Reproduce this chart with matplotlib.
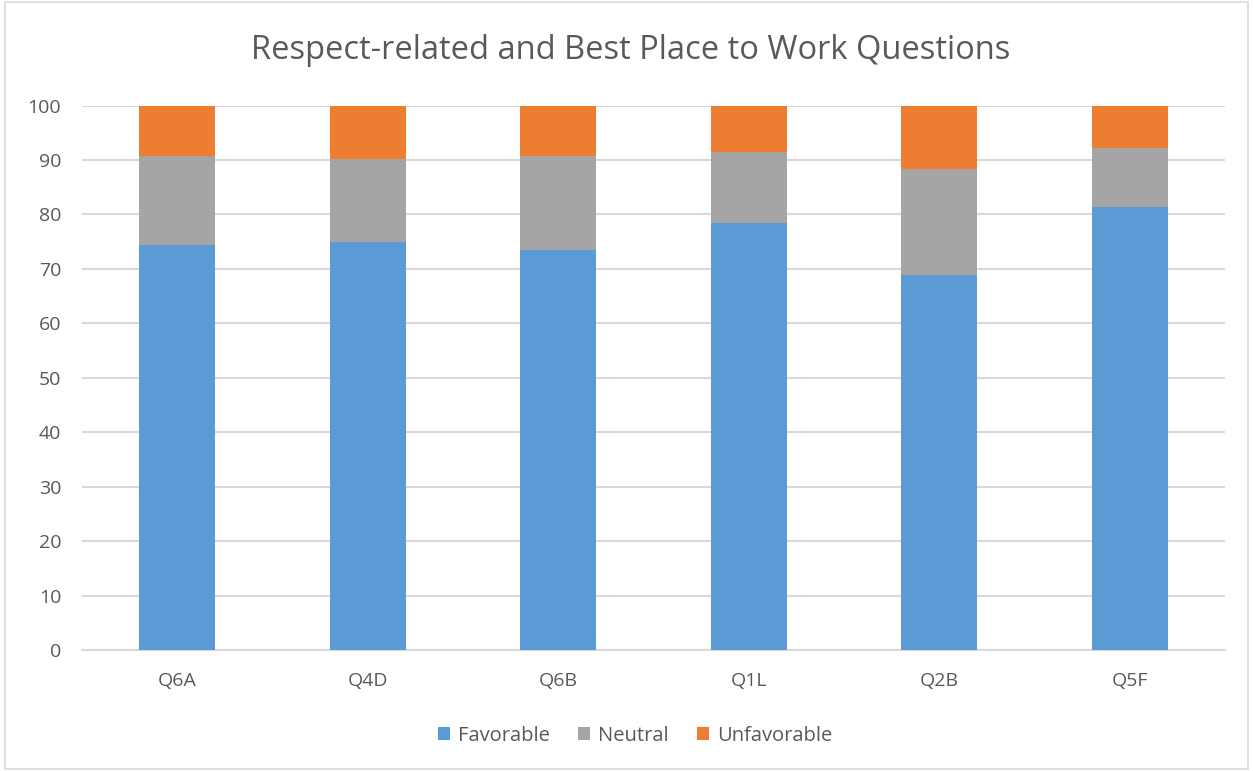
import matplotlib.pyplot as plt
import numpy as np
from matplotlib.patches import Rectangle

categories = ["Q6A", "Q4D", "Q6B", "Q1L", "Q2B", "Q5F"]
favorable = [74.4, 74.9, 73.4, 78.5, 68.9, 81.4]
neutral = [16.4, 15.3, 17.4, 12.9, 19.5, 10.8]
unfavorable = [9.2, 9.8, 9.2, 8.6, 11.6, 7.8]

plt.rcParams['font.family'] = ['Open Sans', 'DejaVu Sans']
text_color = '#595959'
grid_color = '#d9d9d9'

fig = plt.figure(figsize=(12.53, 7.71), dpi=100)
ax = fig.add_axes([0.0654, 0.157, 0.9123, 0.706])

x = np.arange(len(categories))
fav = np.array(favorable)
neu = np.array(neutral)
unf = np.array(unfavorable)
w = 0.4
ax.bar(x, fav, w, color='#5b9bd5', label='Favorable', zorder=3)
ax.bar(x, neu, w, bottom=fav, color='#a5a5a5', label='Neutral', zorder=3)
ax.bar(x, unf, w, bottom=fav + neu, color='#ed7d31', label='Unfavorable', zorder=3)

ax.set_xlim(-0.5, len(categories) - 0.5)
ax.set_ylim(0, 100)
ax.set_yticks(range(0, 101, 10))
ax.set_xticks(x)
ax.set_xticklabels(categories)
ax.yaxis.grid(True, color=grid_color, linewidth=1.5, zorder=0)
for side in ['top', 'right', 'left']:
    ax.spines[side].set_visible(False)
ax.spines['bottom'].set_color(grid_color)
ax.spines['bottom'].set_linewidth(1.5)
ax.tick_params(axis='both', length=0, labelsize=14, colors=text_color)
ax.tick_params(axis='x', pad=16)
ax.tick_params(axis='y', pad=15)

# title and legend are centred on the whole chart, not the plot area
fig.text(0.503, 0.935, 'Respect-related and Best Place to Work Questions',
         fontsize=23.5, color=text_color, ha='center', va='center')

fig.legend(*ax.get_legend_handles_labels(), loc='center',
           bbox_to_anchor=(0.507, 0.046), ncol=3,
           frameon=False, fontsize=14.5, labelcolor=text_color,
           handlelength=0.6, handleheight=0.6, columnspacing=1.4,
           handletextpad=0.4)

fig.patches.append(Rectangle((0.004, 0.003), 0.992, 0.994, transform=fig.transFigure,
                             fill=False, edgecolor=grid_color, linewidth=1.2))

fig.savefig('out.png', dpi=100)
